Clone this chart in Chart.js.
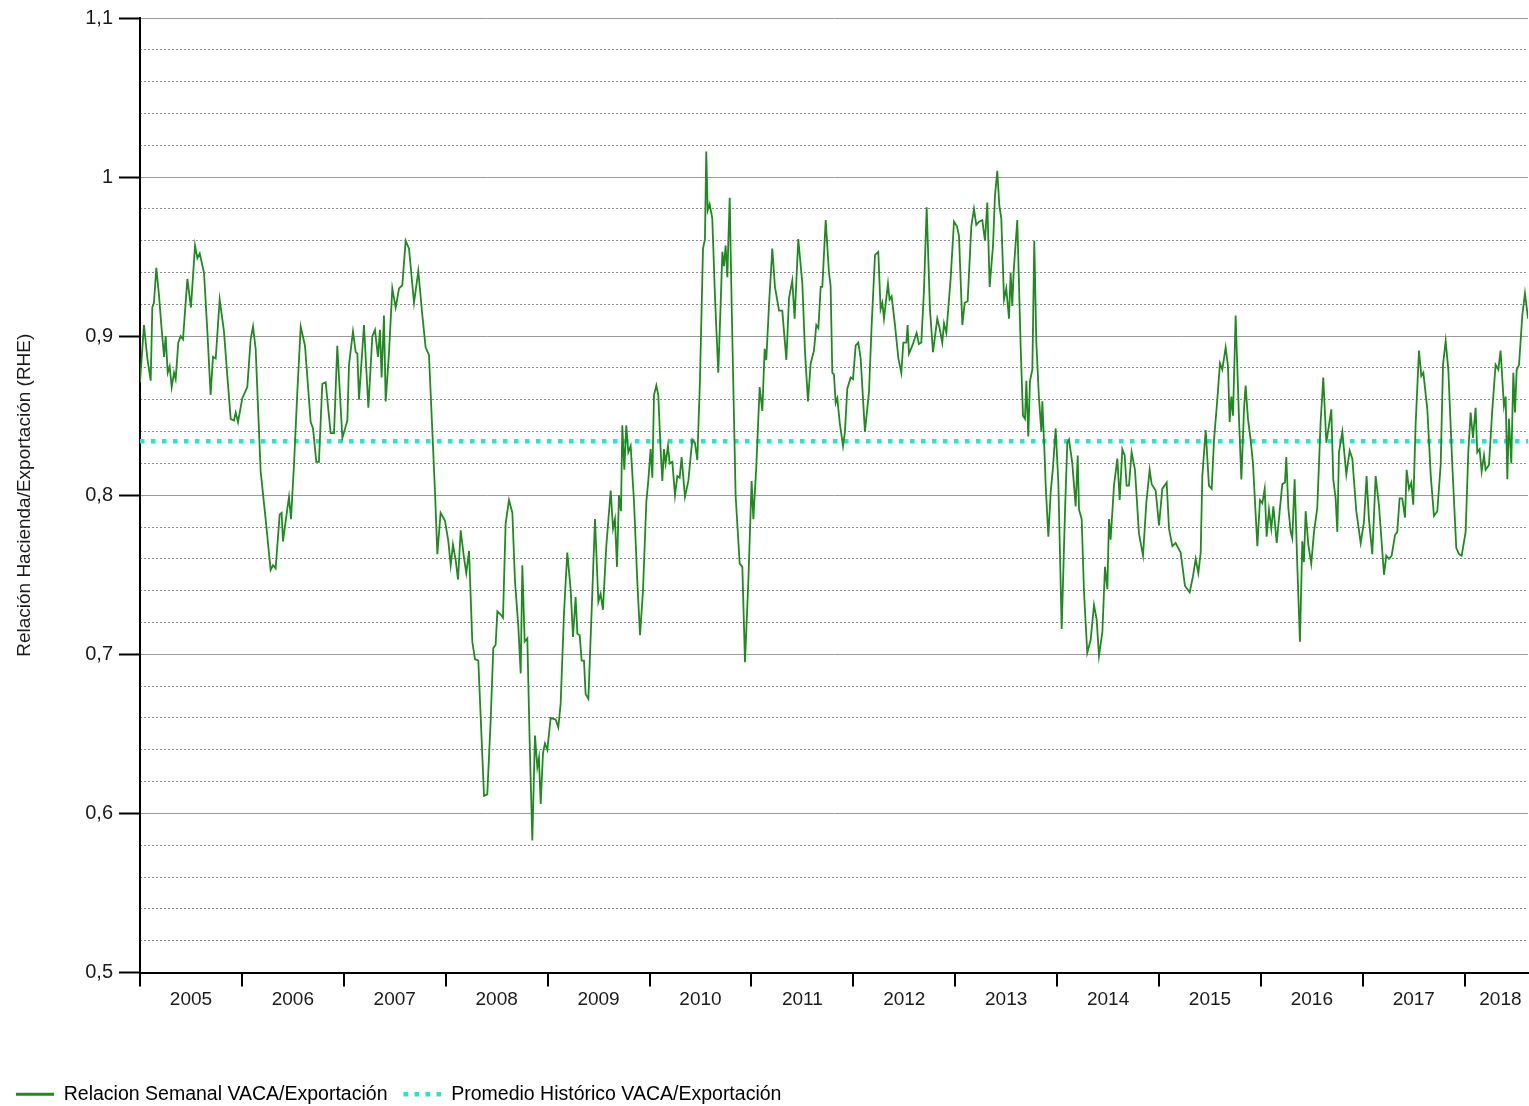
<!DOCTYPE html>
<html>
<head>
<meta charset="utf-8">
<title>Relación Hacienda/Exportación</title>
<script src="https://cdn.jsdelivr.net/npm/chart.js@4.4.1/dist/chart.umd.min.js"></script>
<style>
  html, body { margin: 0; padding: 0; background: #fff; }
  #contenedor { position: relative; width: 1529px; height: 1106px; }
</style>
</head>
<body>
<div id="contenedor"><canvas id="grafico"></canvas></div>
<script>
// Fecha de cada semana (año decimal) y relación semanal VACA/Exportación
const fechas = [
  2005.000, 2005.039, 2005.072, 2005.105, 2005.121, 2005.137, 2005.160, 2005.186,
  2005.209, 2005.236, 2005.252, 2005.272, 2005.291, 2005.311, 2005.334, 2005.350,
  2005.376, 2005.399, 2005.422, 2005.465, 2005.500, 2005.540, 2005.563, 2005.586,
  2005.628, 2005.661, 2005.693, 2005.716, 2005.743, 2005.782, 2005.824, 2005.857,
  2005.890, 2005.922, 2005.939, 2005.962, 2006.004, 2006.053, 2006.086, 2006.109,
  2006.135, 2006.184, 2006.233, 2006.282, 2006.305, 2006.331, 2006.371, 2006.390,
  2006.403, 2006.430, 2006.462, 2006.482, 2006.511, 2006.544, 2006.577, 2006.619,
  2006.675, 2006.698, 2006.730, 2006.756, 2006.789, 2006.822, 2006.871, 2006.904,
  2006.936, 2006.986, 2007.035, 2007.051, 2007.090, 2007.117, 2007.133, 2007.149,
  2007.198, 2007.241, 2007.280, 2007.306, 2007.335, 2007.355, 2007.371, 2007.394,
  2007.411, 2007.443, 2007.476, 2007.509, 2007.542, 2007.574, 2007.607, 2007.640,
  2007.689, 2007.731, 2007.771, 2007.803, 2007.836, 2007.869, 2007.895, 2007.918,
  2007.950, 2007.993, 2008.026, 2008.049, 2008.071, 2008.098, 2008.121, 2008.147,
  2008.179, 2008.202, 2008.229, 2008.261, 2008.287, 2008.320, 2008.376, 2008.408,
  2008.441, 2008.467, 2008.490, 2008.507, 2008.539, 2008.562, 2008.588, 2008.621,
  2008.654, 2008.680, 2008.713, 2008.736, 2008.752, 2008.775, 2008.801, 2008.824,
  2008.850, 2008.876, 2008.899, 2008.915, 2008.932, 2008.955, 2008.974, 2008.997,
  2009.030, 2009.079, 2009.105, 2009.128, 2009.161, 2009.193, 2009.226, 2009.249,
  2009.275, 2009.292, 2009.315, 2009.334, 2009.357, 2009.373, 2009.400, 2009.439,
  2009.465, 2009.498, 2009.520, 2009.543, 2009.576, 2009.619, 2009.642, 2009.661,
  2009.681, 2009.700, 2009.720, 2009.733, 2009.753, 2009.772, 2009.792, 2009.815,
  2009.848, 2009.880, 2009.907, 2009.936, 2009.969, 2009.988, 2010.011, 2010.028,
  2010.044, 2010.067, 2010.086, 2010.109, 2010.126, 2010.142, 2010.158, 2010.181,
  2010.198, 2010.224, 2010.250, 2010.273, 2010.296, 2010.315, 2010.348, 2010.381,
  2010.420, 2010.446, 2010.469, 2010.495, 2010.525, 2010.544, 2010.557, 2010.571,
  2010.590, 2010.616, 2010.643, 2010.675, 2010.698, 2010.715, 2010.731, 2010.747,
  2010.764, 2010.773, 2010.787, 2010.806, 2010.845, 2010.885, 2010.911, 2010.937,
  2010.970, 2011.002, 2011.019, 2011.048, 2011.081, 2011.107, 2011.130, 2011.146,
  2011.173, 2011.205, 2011.231, 2011.271, 2011.303, 2011.343, 2011.369, 2011.401,
  2011.424, 2011.460, 2011.500, 2011.526, 2011.555, 2011.582, 2011.614, 2011.637,
  2011.657, 2011.680, 2011.696, 2011.729, 2011.761, 2011.777, 2011.794, 2011.810,
  2011.827, 2011.843, 2011.866, 2011.899, 2011.918, 2011.941, 2011.974, 2011.997,
  2012.023, 2012.049, 2012.072, 2012.114, 2012.154, 2012.180, 2012.213, 2012.245,
  2012.268, 2012.285, 2012.301, 2012.340, 2012.356, 2012.376, 2012.409, 2012.442,
  2012.471, 2012.491, 2012.520, 2012.533, 2012.546, 2012.579, 2012.621, 2012.644,
  2012.667, 2012.693, 2012.720, 2012.752, 2012.782, 2012.824, 2012.847, 2012.873,
  2012.890, 2012.913, 2012.955, 2012.988, 2013.017, 2013.037, 2013.070, 2013.093,
  2013.122, 2013.158, 2013.184, 2013.207, 2013.233, 2013.266, 2013.292, 2013.315,
  2013.338, 2013.371, 2013.390, 2013.413, 2013.433, 2013.452, 2013.479, 2013.501,
  2013.528, 2013.544, 2013.560, 2013.573, 2013.609, 2013.642, 2013.665, 2013.685,
  2013.698, 2013.717, 2013.734, 2013.757, 2013.776, 2013.796, 2013.822, 2013.845,
  2013.855, 2013.878, 2013.888, 2013.914, 2013.937, 2013.960, 2013.986, 2014.012,
  2014.045, 2014.077, 2014.100, 2014.117, 2014.149, 2014.182, 2014.202, 2014.215,
  2014.241, 2014.264, 2014.296, 2014.329, 2014.362, 2014.388, 2014.411, 2014.444,
  2014.470, 2014.493, 2014.509, 2014.525, 2014.558, 2014.591, 2014.614, 2014.640,
  2014.663, 2014.682, 2014.705, 2014.731, 2014.764, 2014.803, 2014.843, 2014.875,
  2014.908, 2014.928, 2014.967, 2015.000, 2015.032, 2015.075, 2015.098, 2015.131,
  2015.163, 2015.212, 2015.255, 2015.301, 2015.333, 2015.360, 2015.386, 2015.409,
  2015.425, 2015.458, 2015.490, 2015.517, 2015.540, 2015.572, 2015.598, 2015.621,
  2015.654, 2015.677, 2015.693, 2015.710, 2015.726, 2015.752, 2015.785, 2015.808,
  2015.834, 2015.850, 2015.873, 2015.899, 2015.922, 2015.965, 2015.991, 2016.014,
  2016.037, 2016.056, 2016.079, 2016.102, 2016.122, 2016.155, 2016.184, 2016.210,
  2016.236, 2016.249, 2016.269, 2016.292, 2016.308, 2016.331, 2016.357, 2016.383,
  2016.406, 2016.422, 2016.439, 2016.465, 2016.494, 2016.521, 2016.553, 2016.586,
  2016.612, 2016.642, 2016.668, 2016.691, 2016.710, 2016.733, 2016.750, 2016.766,
  2016.799, 2016.838, 2016.871, 2016.897, 2016.936, 2016.979, 2017.011, 2017.037,
  2017.060, 2017.093, 2017.126, 2017.158, 2017.208, 2017.230, 2017.257, 2017.283,
  2017.316, 2017.338, 2017.361, 2017.387, 2017.414, 2017.430, 2017.453, 2017.476,
  2017.495, 2017.518, 2017.551, 2017.574, 2017.594, 2017.633, 2017.666, 2017.698,
  2017.731, 2017.764, 2017.787, 2017.813, 2017.839, 2017.878, 2017.917, 2017.944,
  2017.970, 2018.009, 2018.035, 2018.058, 2018.081, 2018.107, 2018.123, 2018.146,
  2018.166, 2018.189, 2018.205, 2018.238, 2018.271, 2018.303, 2018.330, 2018.352,
  2018.385, 2018.402, 2018.418, 2018.434, 2018.457, 2018.477, 2018.493, 2018.510,
  2018.533, 2018.565, 2018.591, 2018.621
];

const relacion = [
  0.871, 0.907, 0.886, 0.872, 0.918, 0.921, 0.943, 0.926,
  0.907, 0.887, 0.900, 0.877, 0.881, 0.868, 0.877, 0.873,
  0.896, 0.900, 0.898, 0.936, 0.918, 0.957, 0.949, 0.952,
  0.940, 0.903, 0.863, 0.887, 0.886, 0.923, 0.903, 0.875,
  0.848, 0.847, 0.852, 0.846, 0.861, 0.868, 0.898, 0.906,
  0.892, 0.815, 0.785, 0.753, 0.756, 0.754, 0.788, 0.789,
  0.771, 0.784, 0.799, 0.785, 0.819, 0.865, 0.906, 0.894,
  0.846, 0.842, 0.821, 0.821, 0.870, 0.871, 0.839, 0.839,
  0.894, 0.836, 0.847, 0.882, 0.903, 0.890, 0.889, 0.860,
  0.907, 0.855, 0.900, 0.904, 0.887, 0.904, 0.874, 0.913,
  0.859, 0.889, 0.930, 0.918, 0.930, 0.932, 0.960, 0.955,
  0.921, 0.941, 0.913, 0.893, 0.888, 0.840, 0.802, 0.763,
  0.789, 0.784, 0.771, 0.756, 0.769, 0.759, 0.747, 0.778,
  0.761, 0.751, 0.765, 0.708, 0.697, 0.696, 0.611, 0.612,
  0.658, 0.704, 0.706, 0.727, 0.725, 0.723, 0.782, 0.797,
  0.789, 0.746, 0.717, 0.688, 0.756, 0.708, 0.710, 0.645,
  0.583, 0.649, 0.629, 0.635, 0.606, 0.638, 0.644, 0.640,
  0.660, 0.659, 0.654, 0.669, 0.726, 0.764, 0.741, 0.711,
  0.736, 0.713, 0.712, 0.696, 0.696, 0.675, 0.672, 0.739,
  0.785, 0.733, 0.738, 0.728, 0.768, 0.803, 0.779, 0.785,
  0.755, 0.800, 0.790, 0.844, 0.816, 0.844, 0.827, 0.831,
  0.796, 0.746, 0.712, 0.740, 0.796, 0.809, 0.829, 0.811,
  0.863, 0.869, 0.863, 0.829, 0.809, 0.829, 0.820, 0.831,
  0.820, 0.821, 0.800, 0.812, 0.811, 0.824, 0.799, 0.809,
  0.835, 0.833, 0.822, 0.872, 0.955, 0.961, 1.016, 0.979,
  0.983, 0.974, 0.924, 0.877, 0.920, 0.953, 0.944, 0.957,
  0.937, 0.958, 0.987, 0.920, 0.800, 0.757, 0.755, 0.695,
  0.746, 0.809, 0.785, 0.818, 0.868, 0.853, 0.892, 0.885,
  0.920, 0.955, 0.931, 0.916, 0.916, 0.885, 0.924, 0.935,
  0.911, 0.961, 0.933, 0.890, 0.859, 0.883, 0.891, 0.907,
  0.905, 0.931, 0.931, 0.973, 0.940, 0.932, 0.877, 0.876,
  0.858, 0.861, 0.846, 0.831, 0.840, 0.867, 0.874, 0.873,
  0.894, 0.896, 0.886, 0.840, 0.865, 0.907, 0.951, 0.953,
  0.917, 0.921, 0.911, 0.933, 0.923, 0.925, 0.907, 0.886,
  0.877, 0.896, 0.896, 0.907, 0.889, 0.894, 0.902, 0.895,
  0.896, 0.928, 0.981, 0.917, 0.890, 0.911, 0.905, 0.896,
  0.908, 0.902, 0.936, 0.972, 0.969, 0.963, 0.907, 0.921,
  0.922, 0.969, 0.980, 0.970, 0.972, 0.973, 0.960, 0.984,
  0.931, 0.957, 0.988, 1.004, 0.982, 0.974, 0.923, 0.930,
  0.911, 0.940, 0.919, 0.940, 0.973, 0.894, 0.850, 0.848,
  0.872, 0.837, 0.872, 0.879, 0.960, 0.896, 0.861, 0.840,
  0.859, 0.824, 0.806, 0.774, 0.802, 0.818, 0.842, 0.808,
  0.716, 0.789, 0.833, 0.835, 0.820, 0.793, 0.825, 0.791,
  0.785, 0.739, 0.701, 0.709, 0.731, 0.722, 0.699, 0.714,
  0.755, 0.741, 0.785, 0.772, 0.806, 0.823, 0.797, 0.829,
  0.825, 0.806, 0.806, 0.827, 0.816, 0.776, 0.762, 0.795,
  0.816, 0.807, 0.803, 0.781, 0.804, 0.808, 0.779, 0.768,
  0.770, 0.764, 0.743, 0.739, 0.749, 0.760, 0.751, 0.764,
  0.812, 0.841, 0.806, 0.804, 0.835, 0.860, 0.883, 0.879,
  0.893, 0.881, 0.846, 0.862, 0.850, 0.913, 0.848, 0.810,
  0.854, 0.869, 0.848, 0.835, 0.820, 0.768, 0.797, 0.795,
  0.804, 0.774, 0.791, 0.779, 0.793, 0.770, 0.790, 0.807,
  0.808, 0.824, 0.792, 0.777, 0.773, 0.810, 0.756, 0.708,
  0.771, 0.758, 0.790, 0.769, 0.757, 0.777, 0.792, 0.846,
  0.874, 0.833, 0.844, 0.854, 0.810, 0.798, 0.777, 0.827,
  0.840, 0.813, 0.828, 0.823, 0.790, 0.770, 0.783, 0.812,
  0.785, 0.763, 0.812, 0.794, 0.750, 0.762, 0.760, 0.762,
  0.775, 0.777, 0.798, 0.798, 0.786, 0.816, 0.804, 0.808,
  0.794, 0.844, 0.891, 0.875, 0.877, 0.854, 0.813, 0.787,
  0.790, 0.819, 0.882, 0.897, 0.879, 0.819, 0.767, 0.763,
  0.762, 0.777, 0.827, 0.852, 0.836, 0.855, 0.827, 0.829,
  0.815, 0.825, 0.816, 0.819, 0.854, 0.882, 0.879, 0.891,
  0.856, 0.862, 0.810, 0.848, 0.820, 0.877, 0.852, 0.879,
  0.882, 0.913, 0.927, 0.911
];

// Promedio histórico de la relación
const promedio = 0.834;

// Años del eje X y marcas del eje Y
const anios = [2005, 2006, 2007, 2008, 2009, 2010, 2011, 2012, 2013, 2014, 2015, 2016, 2017, 2018];
const marcasY = [0.5, 0.6, 0.7, 0.8, 0.9, 1.0, 1.1];

const nombreSerie = 'Relacion Semanal VACA/Exportación';
const nombrePromedio = 'Promedio Histórico VACA/Exportación';
const tituloEje = 'Relación Hacienda/Exportación (RHE)';

const fuente = "'Liberation Sans', Arial, sans-serif";
const fechaFin = fechas[fechas.length - 1];

// Marcas del eje X: límites de año (con rayita) y centros de año (con etiqueta)
const centros = anios.map(a => (a + Math.min(a + 1, fechaFin)) / 2 + (a === 2018 ? 0.04 : 0));
const marcasX = anios.concat(centros).sort((a, b) => a - b);

// Líneas menores cada 0,02
const menores = [];
for (let k = 0; k <= 30; k++) menores.push(+(0.5 + k * 0.02).toFixed(2));

const esMayor = v => Math.abs(v * 10 - Math.round(v * 10)) < 1e-6;

const ctx = document.getElementById('grafico').getContext('2d');
const grafico = new Chart(ctx, {
    type: 'line',
    data: {
        datasets: [
            {
                label: nombreSerie,
                data: fechas.map((f, i) => ({ x: f, y: relacion[i] })),
                borderColor: '#1f8a1f',
                borderWidth: 1.8,
                pointRadius: 0,
                tension: 0,
                fill: false
            },
            {
                label: nombrePromedio,
                data: [{ x: anios[0], y: promedio }, { x: fechaFin, y: promedio }],
                borderColor: '#22e8c6',
                borderWidth: 4.5,
                borderDash: [4.5, 6.5],
                borderCapStyle: 'butt',
                pointRadius: 0,
                fill: false
            }
        ]
    },
    options: {
        responsive: true,
        maintainAspectRatio: false,
        animation: false,
        devicePixelRatio: 1,
        layout: { padding: { top: 18, right: 1, bottom: -8, left: 0 } },
        scales: {
            x: {
                type: 'linear',
                min: anios[0],
                max: fechaFin,
                afterBuildTicks: (scale) => { scale.ticks = marcasX.map(v => ({ value: v })); },
                afterFit: (scale) => { scale.height = 96; },
                ticks: {
                    autoSkip: false,
                    maxRotation: 0,
                    padding: 2,
                    color: '#1a1a1a',
                    font: { family: fuente, size: 19 },
                    callback: (v) => Number.isInteger(v) ? '' : String(Math.floor(v))
                },
                grid: {
                    drawOnChartArea: false,
                    tickLength: 14,
                    lineWidth: 2,
                    color: (c) => (c.tick && Number.isInteger(c.tick.value)) ? '#000' : 'rgba(0,0,0,0)'
                },
                border: { display: true, color: '#000', width: 2 }
            },
            yMenor: {
                position: 'left',
                min: 0.5,
                max: 1.1,
                afterBuildTicks: (scale) => { scale.ticks = menores.map(v => ({ value: v })); },
                afterFit: (scale) => { scale.width = 0; },
                ticks: { display: false },
                grid: {
                    drawTicks: false,
                    lineWidth: 1,
                    color: (c) => (c.tick && esMayor(c.tick.value)) ? 'rgba(0,0,0,0)' : '#8a8a8a'
                },
                border: { display: false, dash: [2, 2] }
            },
            y: {
                position: 'left',
                min: 0.5,
                max: 1.1,
                afterBuildTicks: (scale) => { scale.ticks = marcasY.map(v => ({ value: v })); },
                afterFit: (scale) => { scale.width = 140; },
                ticks: {
                    padding: 6,
                    color: '#1a1a1a',
                    font: { family: fuente, size: 20 },
                    callback: (v) => String(Math.round(v * 10) / 10).replace('.', ',')
                },
                grid: {
                    color: '#9a9a9a',
                    lineWidth: 1,
                    tickLength: 21,
                    tickColor: '#000',
                    tickWidth: 2
                },
                border: { display: true, color: '#000', width: 2 },
                title: {
                    display: true,
                    text: tituloEje,
                    color: '#1a1a1a',
                    font: { family: fuente, size: 19 },
                    padding: { top: 13, bottom: 0 }
                }
            }
        },
        plugins: {
            tooltip: { enabled: false },
            legend: {
                position: 'bottom',
                align: 'start',
                labels: {
                    usePointStyle: true,
                    pointStyleWidth: 38,
                    padding: 16,
                    color: '#1a1a1a',
                    font: { family: fuente, size: 19.5 },
                    generateLabels: (chart) => chart.data.datasets.map((ds, i) => ({
                        text: ds.label,
                        datasetIndex: i,
                        pointStyle: 'line',
                        fillStyle: ds.borderColor,
                        strokeStyle: ds.borderColor,
                        lineWidth: i === 0 ? 3 : 4.5,
                        lineDash: ds.borderDash || [],
                        lineCap: 'butt',
                        hidden: false
                    }))
                }
            }
        }
    }
});
</script>
</body>
</html>
